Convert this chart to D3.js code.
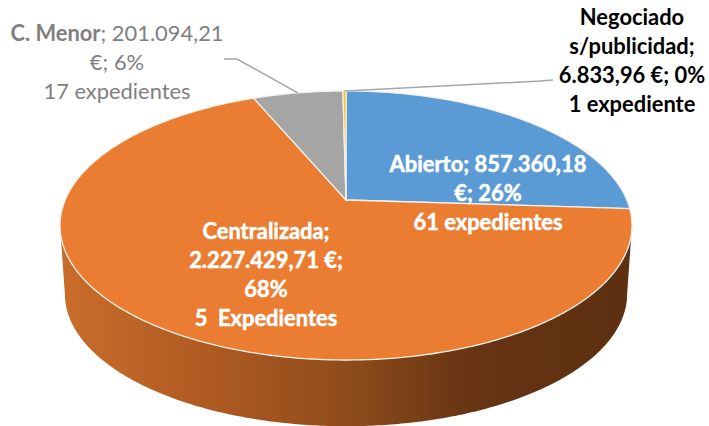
<!DOCTYPE html>
<html lang="es">
<head>
<meta charset="UTF-8">
<title>Expedientes</title>
<script src="https://cdn.jsdelivr.net/npm/d3@7"></script>
<style>
  html, body { margin: 0; padding: 0; background: #fff; }
  svg { display: block; }
  text { font-family: Lato, "Open Sans", sans-serif; font-size: 21.9px; text-anchor: middle; white-space: pre; }
</style>
</head>
<body>
<script>
// values
const categories = ["Abierto", "Centralizada", "C. Menor", "Negociado s/publicidad"];
const importes = [857360.18, 2227429.71, 201094.21, 6833.96];
const expedientes = [61, 5, 17, 1];
const colors = ["#5b9bd5", "#ea7d31", "#a5a5a5", "#ffc000"];

const abiertoLines = ["Abierto; 857.360,18", "€; 26%", expedientes[0] + " expedientes"];
const centralLines = ["Centralizada;", "2.227.429,71 €;", "68%", expedientes[1] + "  Expedientes"];
const menorLines = ["; 201.094,21", "€; 6%", expedientes[2] + " expedientes"];
const negociadoLines = ["Negociado", "s/publicidad;", "6.833,96 €; 0%", expedientes[3] + " expediente"];

const w = 709;
const h = 426;

const svg = d3.select("body").append("svg")
  .attr("width", w)
  .attr("height", h);

// the disc is a circle seen in perspective: slices meet at (346,200),
// the rim runs from y=91 at the back to y=360 at the front
const cx = 346;
const cy = 200;
const kx = 280.8;
const ky = 91.75;
const persp = -0.1896;

function upperRim(angle) {
  const X = Math.sin(angle);
  const Y = -Math.cos(angle);
  const d = 1 + persp * Y;
  return [cx + kx * X / d, (cy + ky * Y) / d];
}

// lower rim, a bit smaller and pushed down
const lowerScale = 0.983;
const ellipseMidY = 225.5;
const wallDrop = 68.5;
function lowerRim(angle) {
  const p = upperRim(angle);
  return [cx + (p[0] - cx) * lowerScale, ellipseMidY + (p[1] - ellipseMidY) * lowerScale + wallDrop];
}

const line = d3.line();

function arcPoints(fn, a0, a1) {
  const n = Math.max(2, Math.ceil(Math.abs(a1 - a0) / 0.01));
  return d3.range(n + 1).map(i => fn(a0 + (a1 - a0) * i / n));
}

const pie = d3.pie().sort(null).value(d => d);
const slices = pie(importes);

// side wall, only the orange slice shows from the front
const defs = svg.append("defs");
const grad = defs.append("linearGradient")
  .attr("id", "wall")
  .attr("gradientUnits", "userSpaceOnUse")
  .attr("x1", 60).attr("x2", 632).attr("y1", 0).attr("y2", 0);
[[0, "#c96d2b"], [0.25, "#b05b22"], [0.5, "#8f4c1b"], [0.72, "#673413"], [1, "#5c3011"]].forEach(s => {
  grad.append("stop").attr("offset", s[0]).attr("stop-color", s[1]);
});

// wall runs between the two points where the rim is widest, so its sides are straight
const frontStart = Math.acos(persp);
const frontEnd = Math.PI * 2 - frontStart;
const wallPts = arcPoints(upperRim, frontStart, frontEnd)
  .concat(arcPoints(lowerRim, frontEnd, frontStart));
svg.append("path")
  .attr("d", line(wallPts) + "Z")
  .attr("fill", "url(#wall)");

// top face
svg.selectAll("path.slice")
  .data(slices)
  .enter()
  .append("path")
  .attr("class", "slice")
  .attr("d", d => line([[cx, cy]].concat(arcPoints(upperRim, d.startAngle, d.endAngle))) + "Z")
  .attr("fill", (d, i) => colors[i])
  .attr("stroke", "#f4efe9")
  .attr("stroke-width", 1.3)
  .attr("stroke-linejoin", "round");

// leader lines
svg.append("path")
  .attr("d", line([[224, 59], [237, 59], upperRim((slices[2].startAngle + slices[2].endAngle) / 2)]))
  .attr("fill", "none").attr("stroke", "#a6a6a6").attr("stroke-width", 1.5);
svg.append("path")
  .attr("d", line([[553, 80], [540, 81], upperRim((slices[3].startAngle + slices[3].endAngle) / 2)]))
  .attr("fill", "none").attr("stroke", "#a6a6a6").attr("stroke-width", 1.5);

function block(lines, x, ys, fill, heavy) {
  const t = svg.append("g");
  lines.forEach((s, i) => {
    const el = t.append("text")
      .attr("x", x)
      .attr("y", ys[i])
      .attr("fill", fill)
      .text(s);
    if (heavy) el.attr("font-weight", 700);
    // the labels on the slices look a bit fattened in the original
    if (heavy && fill === "#fff") el.attr("stroke", "#fff").attr("stroke-width", 0.5);
  });
  return t;
}

block(abiertoLines, 488, [172, 201, 230], "#fff", true);
block(centralLines, 266, [239, 268, 297, 326], "#fff", true);
block(negociadoLines, 632, [25, 54, 83, 112], "#000", true);

// C. Menor has its name in bold on the first line only
const menor = block(menorLines, 117, [41, 70, 99], "#7f7f7f", false);
menor.select("text").text(null)
  .call(t => t.append("tspan").attr("font-weight", 700).text(categories[2]))
  .call(t => t.append("tspan").text(menorLines[0]));
</script>
</body>
</html>
